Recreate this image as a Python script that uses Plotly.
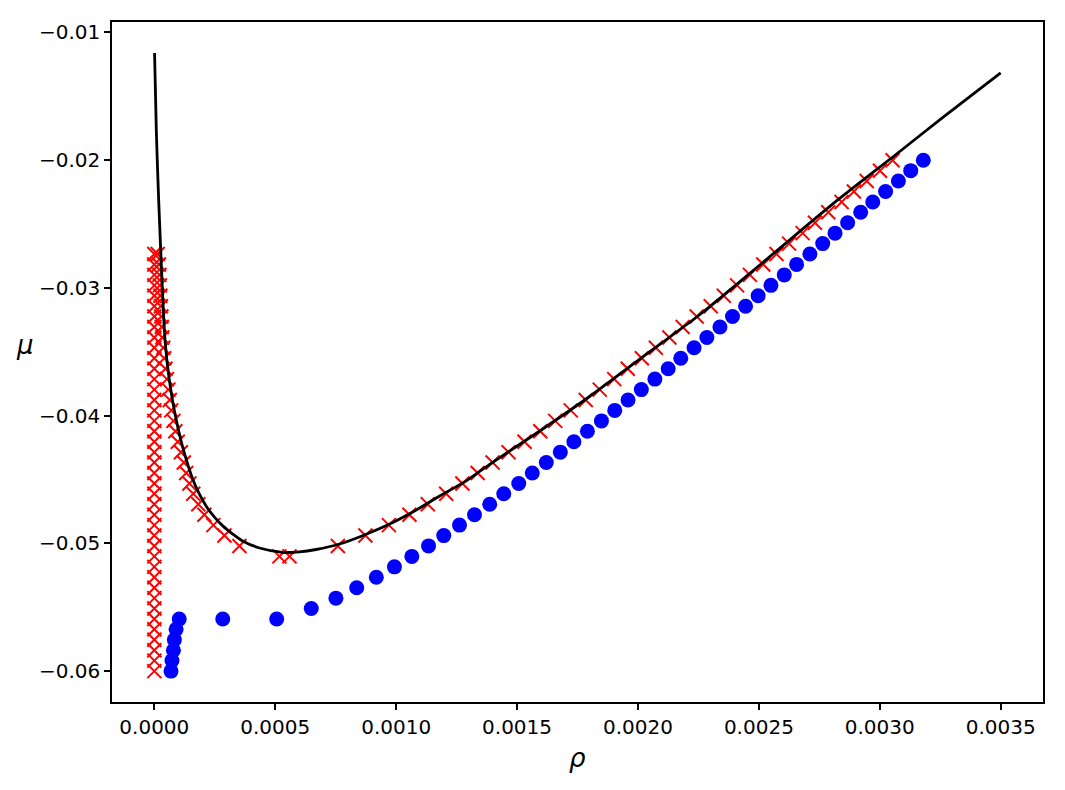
import plotly.graph_objects as go

# chemical potential grid (mu values of the markers)
mu_grid = [-0.06000, -0.05918, -0.05837, -0.05755, -0.05673, -0.05592, -0.05510, -0.05429,
           -0.05347, -0.05265, -0.05184, -0.05102, -0.05020, -0.04939, -0.04857, -0.04776,
           -0.04694, -0.04612, -0.04531, -0.04449, -0.04367, -0.04286, -0.04204, -0.04122,
           -0.04041, -0.03959, -0.03878, -0.03796, -0.03714, -0.03633, -0.03551, -0.03469,
           -0.03388, -0.03306, -0.03224, -0.03143, -0.03061, -0.02980, -0.02898, -0.02816,
           -0.02735, -0.02653, -0.02571, -0.02490, -0.02408, -0.02327, -0.02245, -0.02163,
           -0.02082, -0.02000]

# blue dots: one per mu (k = 0..49) plus two extra points at k = 5
blue_rho = [6.9e-5, 7.3e-5, 7.9e-5, 8.3e-5, 9.0e-5, 1.03e-4, 6.49e-4, 7.51e-4,
            8.37e-4, 9.18e-4, 9.93e-4, 1.065e-3, 1.134e-3, 1.197e-3, 1.262e-3, 1.324e-3,
            1.387e-3, 1.445e-3, 1.507e-3, 1.563e-3, 1.621e-3, 1.679e-3, 1.735e-3, 1.791e-3,
            1.849e-3, 1.904e-3, 1.959e-3, 2.014e-3, 2.070e-3, 2.125e-3, 2.177e-3, 2.232e-3,
            2.285e-3, 2.339e-3, 2.391e-3, 2.445e-3, 2.497e-3, 2.550e-3, 2.605e-3, 2.656e-3,
            2.711e-3, 2.764e-3, 2.815e-3, 2.867e-3, 2.921e-3, 2.971e-3, 3.024e-3, 3.077e-3,
            3.128e-3, 3.180e-3]
blue_extra_rho = [2.83e-4, 5.06e-4]
blue_extra_mu = [-0.05592, -0.05592]

# red crosses: column at rho = 0 (k = 0..40)
red_zero_rho = [0.0] * 41
# red crosses near the minimum (k = 11)
red_min_rho = [5.17e-4, 5.59e-4]
red_min_mu = [-0.05102, -0.05102]
# red crosses, left branch (k = 12..40)
red_left_rho = [3.52e-4, 2.90e-4, 2.44e-4, 2.07e-4, 1.82e-4, 1.61e-4, 1.45e-4, 1.32e-4,
                1.22e-4, 1.10e-4, 9.7e-5, 8.7e-5, 7.9e-5, 7.0e-5, 6.4e-5, 5.8e-5,
                5.2e-5, 4.6e-5, 4.1e-5, 3.7e-5, 3.3e-5, 3.1e-5, 2.9e-5, 2.7e-5,
                2.5e-5, 2.3e-5, 2.1e-5, 1.9e-5, 1.4e-5]
# red crosses, right branch (k = 12..49)
red_right_rho = [7.59e-4, 8.73e-4, 9.70e-4, 1.055e-3, 1.131e-3, 1.207e-3, 1.274e-3, 1.337e-3,
                 1.399e-3, 1.465e-3, 1.531e-3, 1.596e-3, 1.658e-3, 1.722e-3, 1.784e-3, 1.842e-3,
                 1.902e-3, 1.958e-3, 2.016e-3, 2.074e-3, 2.130e-3, 2.185e-3, 2.243e-3, 2.301e-3,
                 2.355e-3, 2.410e-3, 2.463e-3, 2.518e-3, 2.573e-3, 2.625e-3, 2.681e-3, 2.732e-3,
                 2.787e-3, 2.842e-3, 2.893e-3, 2.946e-3, 3.001e-3, 3.053e-3]

# black curve
line_rho = [1.0e-6, 8.3e-6, 1.66e-5, 2.48e-5, 3.52e-5, 4.55e-5, 6.21e-5, 8.28e-5,
            1.035e-4, 1.24e-4, 1.585e-4, 1.86e-4, 2.14e-4, 2.48e-4, 2.83e-4, 3.23e-4,
            3.65e-4, 4.35e-4, 5.30e-4, 6.00e-4, 6.69e-4, 7.66e-4, 8.69e-4, 9.73e-4,
            1.076e-3, 1.180e-3, 1.290e-3, 1.387e-3, 1.594e-3, 1.800e-3, 2.014e-3, 2.255e-3,
            2.532e-3, 2.806e-3, 3.084e-3, 3.261e-3, 3.500e-3]
line_mu = [-0.01160, -0.01771, -0.02241, -0.02632, -0.03092, -0.03440, -0.03722, -0.03960,
           -0.04143, -0.04292, -0.04496, -0.04613, -0.04707, -0.04793, -0.04863, -0.04925,
           -0.04981, -0.05036, -0.05070, -0.05067, -0.05048, -0.05005, -0.04934, -0.04849,
           -0.04747, -0.04629, -0.04511, -0.04381, -0.04120, -0.03850, -0.03548, -0.03210,
           -0.02776, -0.02342, -0.01930, -0.01664, -0.01316]

x_ticks = [0.0, 0.0005, 0.0010, 0.0015, 0.0020, 0.0025, 0.0030, 0.0035]
y_ticks = [-0.06, -0.05, -0.04, -0.03, -0.02, -0.01]

red_x = red_zero_rho + red_min_rho + red_left_rho + red_right_rho
red_y = mu_grid[:41] + red_min_mu + mu_grid[12:41] + mu_grid[12:50]
blue_x = blue_rho + blue_extra_rho
blue_y = mu_grid + blue_extra_mu

fig = go.Figure()
fig.add_trace(go.Scatter(
    x=red_x, y=red_y, mode="markers",
    marker=dict(symbol="x-thin", size=14, color="#ff0000",
                line=dict(color="#ff0000", width=2)),
    showlegend=False, hoverinfo="skip"))
fig.add_trace(go.Scatter(
    x=blue_x, y=blue_y, mode="markers",
    marker=dict(symbol="circle", size=15, color="#0000ff", line=dict(width=0)),
    showlegend=False, hoverinfo="skip"))
fig.add_trace(go.Scatter(
    x=line_rho, y=line_mu, mode="lines",
    line=dict(color="black", width=2.8, shape="spline", smoothing=0.7),
    showlegend=False, hoverinfo="skip"))

font = dict(family="DejaVu Sans", size=20, color="black")
axis_common = dict(showgrid=False, zeroline=False, showline=True, linecolor="black",
                   linewidth=1.5, mirror=True, ticks="outside", ticklen=6, tickwidth=1.5,
                   tickcolor="black", tickfont=font)
fig.update_xaxes(range=[-0.000175, 0.003675], tickvals=x_ticks, tickformat=".4f",
                 **axis_common)
fig.update_yaxes(range=[-0.06242, -0.00918], tickvals=y_ticks, tickformat=".2f",
                 **axis_common)

fig.update_layout(
    width=1065, height=790,
    margin=dict(l=112, r=22, t=22, b=88),
    paper_bgcolor="white", plot_bgcolor="white",
    font=font,
    annotations=[
        dict(text="<i>ρ</i>", xref="paper", yref="paper", x=0.5, y=-0.082,
             xanchor="center", yanchor="middle", showarrow=False,
             font=dict(family="DejaVu Sans", size=26, color="black")),
        dict(text="<i>μ</i>", xref="paper", yref="paper", x=-0.093, y=0.525,
             xanchor="center", yanchor="middle", showarrow=False,
             font=dict(family="DejaVu Sans", size=26, color="black")),
    ],
)

fig.write_html("out.html")
